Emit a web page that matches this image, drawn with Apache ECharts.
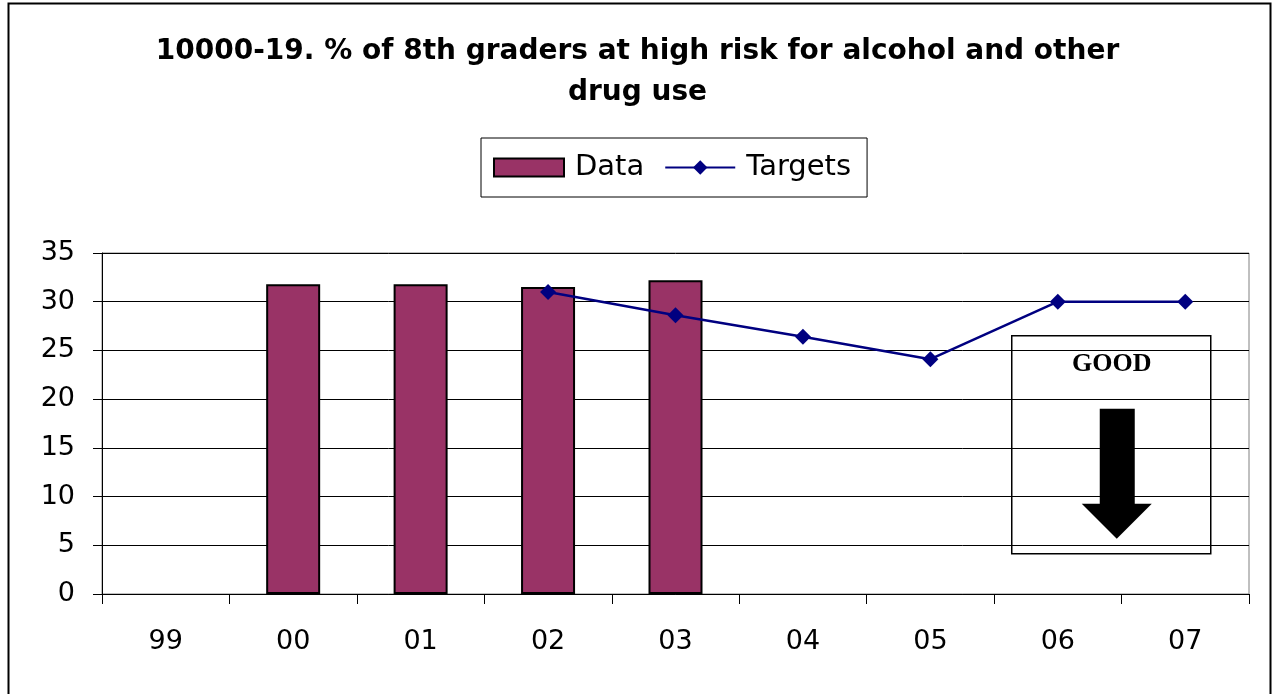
<!DOCTYPE html>
<html>
<head>
<meta charset="utf-8">
<script src="https://cdn.jsdelivr.net/npm/echarts@6/dist/echarts.min.js"></script>
<style>
    html, body { margin: 0; padding: 0; background: #fff; }
    #chart { width: 1275px; height: 694px; }
</style>
</head>
<body>
<div id="chart"></div>
<script>
    // values
    var years = ['99', '00', '01', '02', '03', '04', '05', '06', '07'];
    var dataValues = [null, 31.8, 31.8, 31.5, 32.2, null, null, null, null];
    var targetValues = [null, null, null, 31.0, 28.6, 26.4, 24.1, 30.0, 30.0];
    var yTicks = { min: 0, max: 35, interval: 5 };

    var font = 'DejaVu Sans, Liberation Sans, Arial';
    var chart = echarts.init(document.getElementById('chart'));

    var option = {
        animation: false,
        backgroundColor: '#fff',
        title: {
            text: '10000-19. % of 8th graders at high risk for alcohol and other\ndrug use',
            left: 'center',
            top: 26,
            textStyle: {
                fontFamily: font,
                fontSize: 28,
                fontWeight: 'bold',
                color: '#000',
                lineHeight: 41
            }
        },
        legend: {
            data: [{ name: 'Data', icon: 'rect' }, { name: 'Targets' }],
            left: 481,
            top: 138,
            padding: [15, 16, 15, 12],
            itemGap: 20,
            itemWidth: 70,
            itemHeight: 18,
            borderColor: '#000',
            borderWidth: 1,
            textStyle: {
                fontFamily: font,
                fontSize: 29,
                color: '#000',
                padding: [0, 0, 0, 6]
            }
        },
        grid: {
            left: 102,
            right: 26,
            top: 253,
            bottom: 100,
            show: true,
            borderColor: '#808080',
            borderWidth: 1
        },
        xAxis: {
            type: 'category',
            data: years,
            boundaryGap: true,
            axisLine: { lineStyle: { color: '#000', width: 1 } },
            axisTick: { show: true, length: 10, lineStyle: { color: '#000' } },
            axisLabel: {
                margin: 34,
                fontFamily: font,
                fontSize: 27,
                color: '#000'
            }
        },
        yAxis: {
            type: 'value',
            min: yTicks.min,
            max: yTicks.max,
            interval: yTicks.interval,
            axisLine: { show: true, lineStyle: { color: '#000', width: 1 } },
            axisTick: { show: true, length: 9, lineStyle: { color: '#000' } },
            axisLabel: {
                margin: 27,
                fontFamily: font,
                fontSize: 27,
                color: '#000'
            },
            splitLine: { show: true, lineStyle: { color: '#000', width: 1 } }
        },
        series: [
            {
                name: 'Data',
                type: 'bar',
                data: dataValues,
                barWidth: 54,
                itemStyle: {
                    color: '#993366',
                    borderColor: '#000',
                    borderWidth: 2
                }
            },
            {
                name: 'Targets',
                type: 'line',
                data: targetValues,
                symbol: 'diamond',
                symbolSize: 16,
                connectNulls: false,
                lineStyle: { color: '#000080', width: 2.5 },
                itemStyle: { color: '#000080' }
            }
        ],
        graphic: [
            {
                // outer chart frame
                type: 'rect',
                shape: { x: 8.5, y: 3.5, width: 1262, height: 720 },
                style: { fill: null, stroke: '#000', lineWidth: 2 },
                z: 100
            },
            {
                type: 'group',
                left: 1011,
                top: 335,
                z: 100,
                children: [
                    {
                        type: 'rect',
                        shape: { x: 0, y: 0, width: 199, height: 218 },
                        style: { fill: '#fff', stroke: '#000', lineWidth: 1.5 }
                    },
                    {
                        type: 'text',
                        x: 100,
                        y: 29,
                        style: {
                            text: 'GOOD',
                            fontFamily: 'Liberation Serif, Times New Roman',
                            fontWeight: 'bold',
                            fontSize: 26,
                            fill: '#000',
                            align: 'center',
                            verticalAlign: 'middle'
                        }
                    },
                    {
                        type: 'polygon',
                        shape: {
                            points: [[88, 73], [123, 73], [123, 168], [140, 168],
                                     [105, 203], [70, 168], [88, 168]]
                        },
                        style: { fill: '#000' }
                    }
                ]
            }
        ]
    };

    chart.setOption(option);
</script>
</body>
</html>
